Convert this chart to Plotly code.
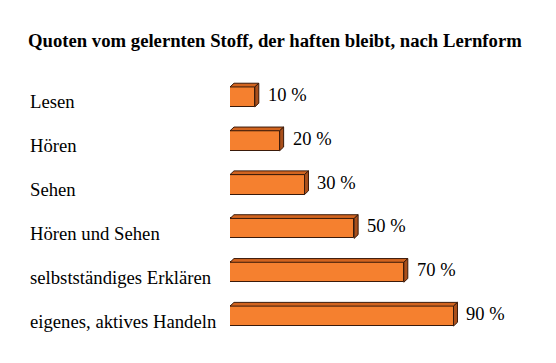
import plotly.graph_objects as go

categories = ["Lesen", "Hören", "Sehen", "Hören und Sehen",
              "selbstständiges Erklären", "eigenes, aktives Handeln"]
values = [10, 20, 30, 50, 70, 90]
value_labels = ["10 %", "20 %", "30 %", "50 %", "70 %", "90 %"]
title_text = "Quoten vom gelernten Stoff, der haften bleibt, nach Lernform"

FRONT = "#F5802F"
TOP = "#D2641F"
SIDE = "#A94F1B"
EDGE = "#3A1A0A"
FONT = "Liberation Serif"

W = 0.455   # bar thickness (y units)
DX = 1.6    # depth offset in x units
DY = 0.085  # depth offset in y units

pos = list(range(len(categories)))

fig = go.Figure()

tx, ty = [], []
sx, sy = [], []
for p, v in zip(pos, values):
    yt = p - W / 2
    yb = p + W / 2
    tx += [0, v, v + DX, DX, 0, None]
    ty += [yt, yt, yt - DY, yt - DY, yt, None]
    sx += [v, v + DX, v + DX, v, v, None]
    sy += [yt, yt - DY, yb - DY, yb, yt, None]

fig.add_trace(go.Bar(
    y=pos, x=values, orientation="h", width=W, base=0,
    marker=dict(color=FRONT, line=dict(color=EDGE, width=1)),
    hoverinfo="skip", showlegend=False))
fig.add_trace(go.Scatter(
    x=tx, y=ty, mode="lines", fill="toself", fillcolor=TOP,
    line=dict(color=EDGE, width=1), hoverinfo="skip", showlegend=False))
fig.add_trace(go.Scatter(
    x=sx, y=sy, mode="lines", fill="toself", fillcolor=SIDE,
    line=dict(color=EDGE, width=1), hoverinfo="skip", showlegend=False))

L, R, T, B = 222, 28, 67, 25
PW = 548 - L - R

annotations = []
for p, v, lab, cat in zip(pos, values, value_labels, categories):
    annotations.append(dict(
        x=v + DX, y=p, xref="x", yref="y", text=lab, showarrow=False,
        xanchor="left", yanchor="middle", xshift=7, yshift=2,
        font=dict(family=FONT, size=18.5, color="black")))
    annotations.append(dict(
        x=(20 - L) / PW, y=p, xref="paper", yref="y", text=cat,
        showarrow=False, xanchor="left", yanchor="middle", yshift=-5,
        font=dict(family=FONT, size=18.7, color="black")))

fig.update_layout(
    width=548, height=355,
    margin=dict(l=L, r=R, t=T, b=B),
    paper_bgcolor="white", plot_bgcolor="white",
    title=dict(text="<b>" + title_text + "</b>", x=20 / 548, xanchor="left",
               xref="container", y=1 - 32 / 355, yanchor="middle",
               yref="container",
               font=dict(family=FONT, size=18.7, color="black")),
    xaxis=dict(range=[0, 120], visible=False, fixedrange=True),
    yaxis=dict(range=[5.5, -0.5], visible=False, fixedrange=True),
    annotations=annotations,
    bargap=0,
)

fig.write_html("out.html")
